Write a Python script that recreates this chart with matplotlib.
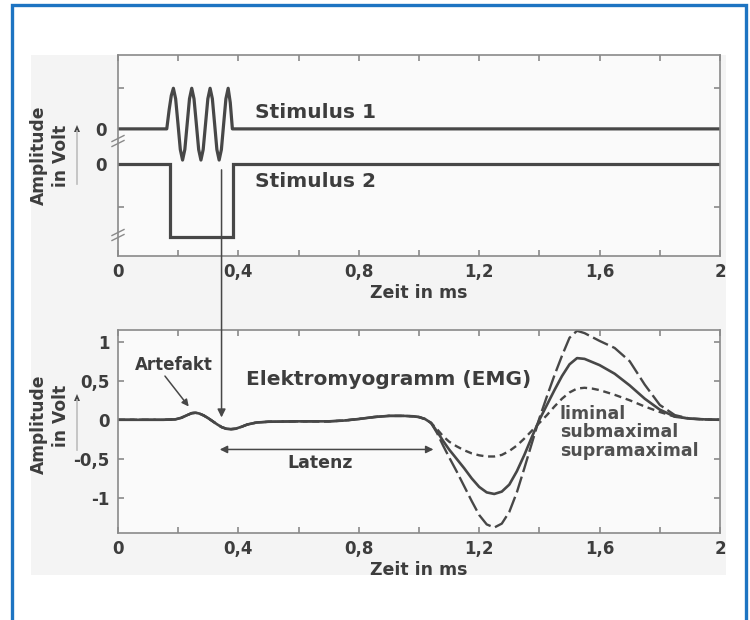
import matplotlib
matplotlib.use('Agg')
import matplotlib.pyplot as plt
from matplotlib.patches import Rectangle, ConnectionPatch, Polygon
from matplotlib.lines import Line2D

plt.rcParams['font.family'] = ['DejaVu Sans']

# ---------------- data ----------------
x_ticks = [0, 0.2, 0.4, 0.6, 0.8, 1.0, 1.2, 1.4, 1.6, 1.8, 2.0]
x_tick_labels = ['0', '', '0,4', '', '0,8', '', '1,2', '', '1,6', '', '2']

# Stimulus 1 (sine burst around level 1.0)
stim1_t = [0, 0.162, 0.170, 0.177, 0.184, 0.1915, 0.1993, 0.207, 0.2145, 0.222,
           0.2298, 0.2375, 0.245, 0.2525, 0.2603, 0.268, 0.2755, 0.283, 0.2908,
           0.2985, 0.306, 0.3135, 0.321, 0.3285, 0.336, 0.3435, 0.351, 0.3585,
           0.366, 0.373, 0.380, 2.0]
stim1_u = [1.0, 1.0, 1.55, 1.95, 2.16, 1.86, 1.14, 0.41, 0.11, 0.41,
           1.14, 1.86, 2.16, 1.86, 1.14, 0.41, 0.11, 0.41, 1.14,
           1.86, 2.16, 1.86, 1.14, 0.41, 0.11, 0.41, 1.14, 1.86,
           2.16, 1.75, 1.0, 1.0]
# Stimulus 2 (rectangular pulse, level 0)
stim2_t = [0, 0.173, 0.173, 0.383, 0.383, 2.0]
stim2_u = [0.0, 0.0, -2.08, -2.08, 0.0, 0.0]
stim_yticks = [2.17, 1.0, 0.0, -1.23]
stim_ytick_labels = ['', '0', '0', '']

emg_yticks = [1, 0.5, 0, -0.5, -1]
emg_ytick_labels = ['1', '0,5', '0', '-0,5', '-1']

# common EMG part (artefact + plateau)
common_t = [0, 0.05, 0.10, 0.15, 0.19, 0.21, 0.23, 0.245, 0.258, 0.27, 0.285,
            0.30, 0.315, 0.33, 0.345, 0.36, 0.375, 0.39, 0.41, 0.43, 0.46, 0.50,
            0.60, 0.70, 0.75, 0.80, 0.85, 0.90, 0.95, 0.98, 1.00, 1.02, 1.04]
common_y = [0, 0, 0, 0, 0.005, 0.025, 0.06, 0.085, 0.09, 0.08, 0.055,
            0.02, -0.02, -0.06, -0.095, -0.115, -0.12, -0.115, -0.09, -0.06, -0.035, -0.025,
            -0.02, -0.02, -0.01, 0.01, 0.035, 0.05, 0.05, 0.045, 0.035, 0.01, -0.04]

resp_t = [1.06, 1.08, 1.10, 1.125, 1.15, 1.175, 1.20, 1.225, 1.25, 1.275, 1.30,
          1.325, 1.35, 1.375, 1.40, 1.425, 1.45, 1.475, 1.50, 1.525, 1.55, 1.575,
          1.60, 1.65, 1.70, 1.75, 1.80, 1.85, 1.90, 1.95, 2.0]
liminal_y = [-0.12, -0.21, -0.28, -0.34, -0.39, -0.43, -0.455, -0.47, -0.47, -0.45, -0.40,
             -0.33, -0.24, -0.14, -0.04, 0.06, 0.17, 0.27, 0.35, 0.40, 0.41, 0.40,
             0.38, 0.32, 0.25, 0.17, 0.10, 0.04, 0.015, 0.005, 0.0]
submax_y = [-0.15, -0.27, -0.38, -0.50, -0.62, -0.75, -0.86, -0.93, -0.95, -0.92, -0.83,
            -0.66, -0.45, -0.22, 0.0, 0.19, 0.38, 0.56, 0.71, 0.79, 0.78, 0.74,
            0.70, 0.59, 0.44, 0.27, 0.13, 0.04, 0.015, 0.005, 0.0]
supra_y = [-0.17, -0.33, -0.48, -0.66, -0.85, -1.04, -1.22, -1.34, -1.38, -1.33, -1.18,
           -0.93, -0.62, -0.30, 0.02, 0.30, 0.57, 0.82, 1.05, 1.14, 1.11, 1.06,
           1.01, 0.92, 0.75, 0.45, 0.19, 0.06, 0.015, 0.005, 0.0]

curve_names = ['liminal', 'submaximal', 'supramaximal']

# ---------------- figure ----------------
W, H = 750, 620
fig = plt.figure(figsize=(W / 100, H / 100), dpi=100)
fig.patch.set_facecolor('white')


def fx(px):
    return px / W


def fy(py):
    return 1 - py / H


line_col = '#474747'
text_col = '#3d3d3d'
spine_col = '#8a8a8a'

# gray panel
fig.add_artist(Rectangle((fx(31), fy(575)), fx(726) - fx(31), fy(55) - fy(575),
                         transform=fig.transFigure, facecolor='#f4f4f4',
                         edgecolor='none', zorder=0))
# blue frame (open at bottom)
fig.add_artist(Line2D([fx(12), fx(12), fx(746), fx(746)],
                      [fy(622), fy(5), fy(5), fy(622)],
                      transform=fig.transFigure, color='#1d74c2', lw=2.4,
                      solid_joinstyle='miter', zorder=1))

ax1 = fig.add_axes([fx(118), fy(256), fx(720) - fx(118), fy(55) - fy(256)])
ax2 = fig.add_axes([fx(118), fy(533), fx(720) - fx(118), fy(330) - fy(533)])

for ax in (ax1, ax2):
    ax.set_facecolor('#fafafa')
    ax.set_xlim(0, 2)
    ax.set_xticks(x_ticks)
    ax.set_xticklabels(x_tick_labels)
    for s in ax.spines.values():
        s.set_color(spine_col)
        s.set_linewidth(1.2)
    ax.tick_params(direction='in', length=4, width=1.2, color=spine_col,
                   top=True, right=True, labelsize=12, labelcolor=text_col, pad=5)
    ax.set_xlabel('Zeit in ms', fontsize=12.5, fontweight='bold', color=text_col,
                  labelpad=2)

# ---- top panel ----
ax1.set_ylim(-2.63, 3.11)
ax1.set_yticks(stim_yticks)
ax1.set_yticklabels(stim_ytick_labels)
ax1.tick_params(axis='y', pad=8)
ax1.plot(stim1_t, stim1_u, color=line_col, lw=2.3, solid_joinstyle='round')
ax1.plot(stim2_t, stim2_u, color=line_col, lw=2.3, solid_joinstyle='miter')
ax1.text(0.455, 1.46, 'Stimulus 1', fontsize=14.5, fontweight='bold',
         color=text_col, va='center', ha='left')
ax1.text(0.455, -0.49, 'Stimulus 2', fontsize=14.5, fontweight='bold',
         color=text_col, va='center', ha='left')

# ---- bottom panel ----
ax2.set_ylim(-1.45, 1.15)
ax2.set_yticks(emg_yticks)
ax2.set_yticklabels(emg_ytick_labels)
ax2.tick_params(axis='y', pad=6)

for ax in (ax1, ax2):
    for lab in ax.get_xticklabels() + ax.get_yticklabels():
        lab.set_fontweight('bold')

styles = [(0, (3, 2)), '-', (0, (7, 2))]
widths = [1.7, 1.9, 1.7]
for name, ys, ls, lw in zip(curve_names, [liminal_y, submax_y, supra_y], styles, widths):
    ax2.plot(common_t + resp_t, common_y + ys, color=line_col, lw=lw,
             linestyle=ls, label=name)

ax2.text(0.425, 0.51, 'Elektromyogramm (EMG)', fontsize=14.5, fontweight='bold',
         color=text_col, va='center', ha='left')
ax2.text(0.187, 0.70, 'Artefakt', fontsize=12, fontweight='bold',
         color=text_col, va='center', ha='center')
ax2.annotate('', xy=(0.235, 0.17), xytext=(0.156, 0.56),
             arrowprops=dict(arrowstyle='-|>', color=line_col, lw=1.1,
                             mutation_scale=10, shrinkA=0, shrinkB=0))
ax2.annotate('', xy=(0.338, -0.38), xytext=(1.048, -0.38),
             arrowprops=dict(arrowstyle='<|-|>', color=line_col, lw=1.1,
                             mutation_scale=11, shrinkA=0, shrinkB=0))
ax2.text(0.671, -0.55, 'Latenz', fontsize=12.5, fontweight='bold',
         color=text_col, va='center', ha='center')
for i, name in enumerate(curve_names):
    ax2.text(1.468, 0.07 - i * 0.232, name, fontsize=12.5, fontweight='bold',
             color='#505050', va='center', ha='left')

# vertical connection arrow from stimulus to EMG
con = ConnectionPatch(xyA=(0.344, -0.17), coordsA=ax1.transData,
                      xyB=(0.344, 0.03), coordsB=ax2.transData,
                      arrowstyle='-|>', color=line_col, lw=1.1,
                      mutation_scale=12, shrinkA=0, shrinkB=0, zorder=10)
fig.add_artist(con)

# y axis labels with little up-arrows
for (cy1, cy2, ay_top, ay_bot) in [(155, 156, 127, 184), (424, 416, 396, 450)]:
    fig.text(fx(39), fy(cy1), 'Amplitude', rotation=90, fontsize=12.3,
             fontweight='bold', color=text_col, ha='center', va='center')
    fig.text(fx(61), fy(cy2), 'in Volt', rotation=90, fontsize=12.3,
             fontweight='bold', color=text_col, ha='center', va='center')
    fig.add_artist(Line2D([fx(77), fx(77)], [fy(ay_bot), fy(ay_top + 4)],
                          transform=fig.transFigure, color='#bdbdbd', lw=1.2))
    fig.add_artist(Polygon(
        [[fx(74), fy(ay_top + 5)], [fx(80), fy(ay_top + 5)], [fx(77), fy(ay_top - 2)]],
        closed=True, transform=fig.transFigure, facecolor='#444444',
        edgecolor='none'))

# axis break marks on the top panel's left spine
for py in (141, 235):
    for off in (-2.5, 2.5):
        fig.add_artist(Line2D([fx(112), fx(124)], [fy(py + off + 3), fy(py + off - 3)],
                              transform=fig.transFigure, color=spine_col, lw=1.0,
                              zorder=5))

fig.savefig('out.png', dpi=100, facecolor='white')
